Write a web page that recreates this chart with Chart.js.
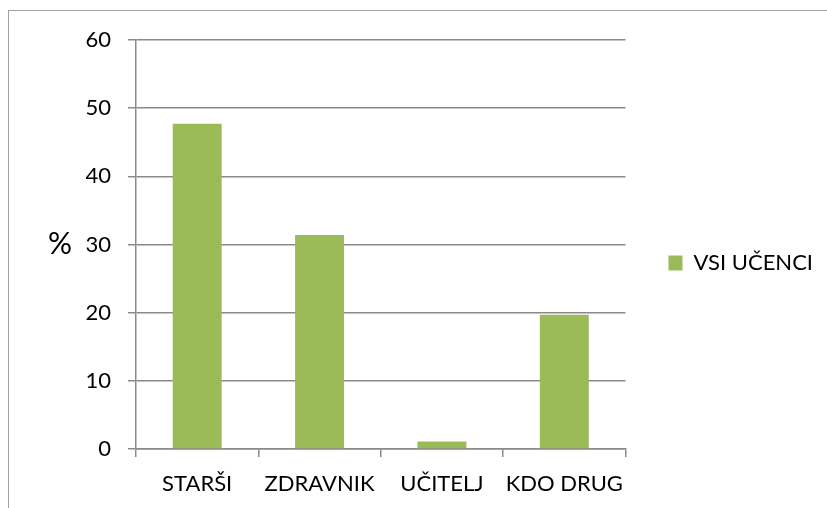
<!DOCTYPE html>
<html>
<head>
<meta charset="utf-8">
<script src="https://cdn.jsdelivr.net/npm/chart.js@4/dist/chart.umd.min.js"></script>
<style>
  html, body { margin: 0; padding: 0; background: #fff; overflow: hidden; }
  #wrap { position: relative; width: 827px; height: 508px; }
  #frame { position: absolute; left: 8px; top: 10px; width: 900px; height: 600px; border: 1.5px solid #a0a0a0; }
  canvas { position: absolute; left: 0; top: 0; }
</style>
</head>
<body>
<div id="wrap">
  <div id="frame"></div>
  <canvas id="chart" width="827" height="508"></canvas>
</div>
<script>
const categories = ["STARŠI", "ZDRAVNIK", "UČITELJ", "KDO DRUG"];
const seriesName = "VSI UČENCI";
const values = [47.7, 31.4, 1.1, 19.7];
const yTicks = [0, 10, 20, 30, 40, 50, 60];

const FONT = "Lato";
const FSIZE = 22;
const GRID = "#8a8a8a";

// horizontal "%" axis title left of the ticks
const percentTitle = {
  id: "percentTitle",
  afterDraw(chart) {
    const { ctx, chartArea } = chart;
    ctx.save();
    ctx.font = "30px " + FONT;
    ctx.fillStyle = "#000";
    ctx.textAlign = "center";
    ctx.textBaseline = "middle";
    ctx.fillText("%", chartArea.left - 76, (chartArea.top + chartArea.bottom) / 2);
    ctx.restore();
  },
};

new Chart(document.getElementById("chart"), {
  type: "bar",
  data: {
    labels: categories,
    datasets: [
      {
        label: seriesName,
        data: values,
        backgroundColor: "#9bbb59",
        barPercentage: 0.4,
        categoryPercentage: 1,
      },
    ],
  },
  options: {
    responsive: false,
    animation: false,
    layout: { padding: { top: 29, left: 0, right: 4, bottom: 11 } },
    plugins: {
      tooltip: { enabled: false },
      // empty spacer above the plot only, so the legend stays centred lower
      title: { display: true, text: "", fullSize: false, padding: 0, font: { size: 11, lineHeight: 1 } },
      legend: {
        position: "right",
        labels: {
          color: "#000",
          font: { family: FONT, size: FSIZE },
          boxWidth: 14,
          boxHeight: 15,
          padding: 43,
        },
      },
    },
    scales: {
      x: {
        afterFit(s) { s.height = 48; },
        ticks: { color: "#000", font: { family: FONT, size: FSIZE }, padding: 14, maxRotation: 0, autoSkip: false },
        grid: { drawOnChartArea: false, offset: true, tickLength: 8, color: GRID, lineWidth: 1.5 },
        border: { color: GRID, width: 1.5 },
      },
      y: {
        min: 0,
        max: 60,
        afterFit(s) { s.width = 136; },
        afterBuildTicks(s) { s.ticks = yTicks.map((v) => ({ value: v })); },
        ticks: { color: "#000", font: { family: FONT, size: FSIZE }, padding: 17 },
        grid: { tickLength: 8, color: GRID, lineWidth: 1.5 },
        border: { color: GRID, width: 1.5 },
      },
    },
  },
  plugins: [percentTitle],
});
</script>
</body>
</html>
